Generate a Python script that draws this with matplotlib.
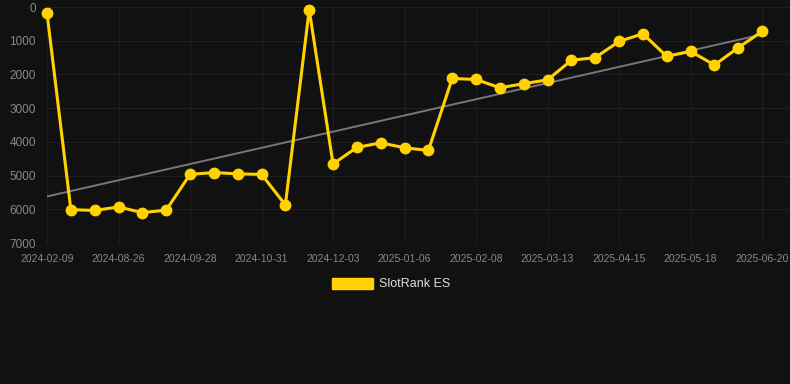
import numpy as np
import matplotlib
matplotlib.use("Agg")
import matplotlib.pyplot as plt

plt.rcParams["font.family"] = ["Liberation Sans", "DejaVu Sans"]

# rank values, one per sample (lower is better)
ranks = [180, 6010, 6035, 5930, 6100, 6025, 4965, 4910, 4950, 4965,
         5870, 80, 4655, 4165, 4030, 4175, 4255, 2120, 2150, 2395,
         2275, 2160, 1580, 1500, 1020, 795, 1465, 1315, 1720, 1205, 725]
tick_labels = ["2024-02-09", "2024-08-26", "2024-09-28", "2024-10-31",
               "2024-12-03", "2025-01-06", "2025-02-08", "2025-03-13",
               "2025-04-15", "2025-05-18", "2025-06-20"]
series_name = "SlotRank ES"

bg = "#111111"
yellow = "#FFD200"

fig = plt.figure(figsize=(7.9, 3.84), dpi=100, facecolor=bg)
ax = fig.add_axes([47 / 790, 1 - 243 / 384, 1 - 47 / 790, 236 / 384])
ax.set_facecolor(bg)

x = np.arange(len(ranks))
slope, icpt = np.polyfit(x, ranks, 1)
ax.plot(x, slope * x + icpt, color="#777777", lw=1.4, zorder=2)
ax.plot(x, ranks, color=yellow, lw=2.2, marker="o", ms=7.5,
        clip_on=False, zorder=3, label=series_name)

ax.set_xlim(0, 31.17)
ax.set_ylim(7000, 0)
ax.set_yticks(range(0, 7001, 1000))
ax.set_xticks(x[::3])
ax.set_xticklabels(tick_labels)

ax.grid(True, color="#1f1f1f", lw=0.8)
for s in ax.spines.values():
    s.set_visible(False)
ax.tick_params(length=0, colors="#888888")
ax.tick_params(axis="x", labelsize=7.5, pad=8)
ax.tick_params(axis="y", labelsize=8.5, pad=8)

handle = plt.Rectangle((0, 0), 1, 1, color=yellow)
fig.legend([handle], [series_name], loc="center", bbox_to_anchor=(0.495, 1 - 284 / 384),
           frameon=False, fontsize=9, labelcolor="#dddddd",
           handlelength=3.3, handleheight=1.0, handletextpad=0.45)

fig.savefig("out.png", dpi=100, facecolor=bg)
